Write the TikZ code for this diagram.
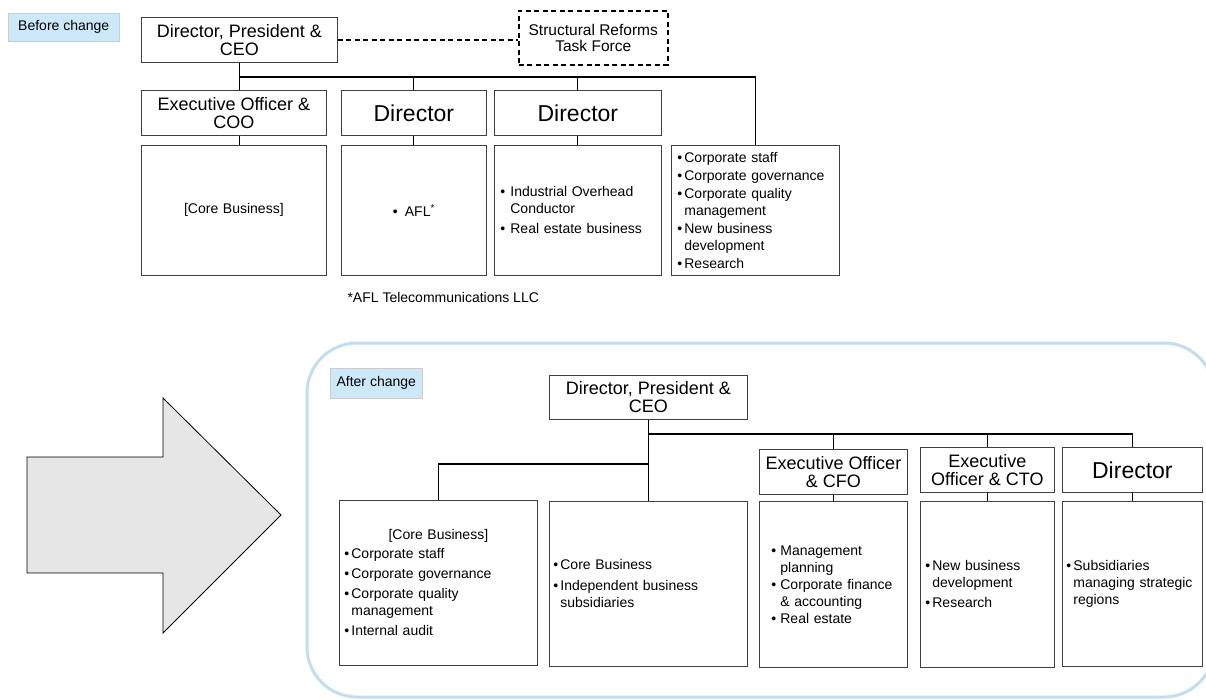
\documentclass[tikz,border=0pt]{standalone}
\usepackage{fontspec}
\setmainfont{Liberation Sans}
\usepackage{tikz}

\definecolor{tagblue}{HTML}{CDE9F9}
\definecolor{frameblue}{HTML}{C2DDF0}
\definecolor{arrowgray}{HTML}{E6E6E6}

\newcommand{\bul}[1][7pt]{\makebox[#1][l]{\textbullet}}
\newcommand{\ind}[1][7pt]{\hspace*{#1}}

\begin{document}
\begin{tikzpicture}[x=1pt,y=-1pt,
	hbox/.style={draw=black!75,line width=0.75pt,anchor=north west,inner sep=0pt,align=center,font=\fontsize{18}{18}\selectfont},
	dbox/.style={hbox,font=\fontsize{23}{23}\selectfont},
	cbox/.style={draw=black!75,line width=0.75pt,anchor=north west,inner xsep=5pt,inner ysep=0pt,align=left,font=\fontsize{14}{17}\selectfont},
	tag/.style={fill=tagblue,draw=black!20,line width=0.5pt,anchor=north west,inner sep=0pt,font=\fontsize{14}{14}\selectfont},
	link/.style={line width=1.2pt}]
	\useasboundingbox (0,0) rectangle (1206,699);
	
	\node (before) [tag,minimum width=111pt,minimum height=28pt] at (8,13) {Before change};
	\node (ceo) [hbox,minimum width=196pt,minimum height=45pt] at (141,17) {Director, President \&\\CEO};
	\node (tf) [hbox,draw=black,line width=1.5pt,dash pattern=on 5pt off 3.5pt,font=\fontsize{15.5}{16}\selectfont,minimum width=149pt,minimum height=54pt] at (518,10) {Structural Reforms\\Task Force};
	\node (coo) [hbox,minimum width=185pt,minimum height=45pt] at (141,90) {Executive Officer \&\\COO};
	\node (dirA) [dbox,minimum width=145pt,minimum height=45pt] at (341,90) {Director};
	\node (dirB) [dbox,minimum width=167pt,minimum height=45pt] at (494,90) {Director};
	
	\node (cbA) [cbox,align=center,text width=175pt,minimum height=130pt] at (141,145) {[Core Business]};
	\node (cbB) [cbox,align=center,text width=135pt,minimum height=130pt] at (341,145) {\bul[12pt]AFL\textsuperscript{*}};
	\node (cbC) [cbox,inner xsep=6pt,text width=155pt,minimum height=130pt] at (494,145) {\bul[10pt]Industrial Overhead\\\ind[10pt]Conductor\\[3pt]\bul[10pt]Real estate business};
	\node (cbD) [cbox,inner xsep=6pt,text width=156pt,minimum height=130pt] at (671,145) {\bul Corporate staff\\[1pt]\bul Corporate governance\\[1pt]\bul Corporate quality\\\ind management\\[1pt]\bul New business\\\ind development\\[1pt]\bul Research};
	\node (note) [anchor=west,font=\fontsize{14}{14}\selectfont] at (344,297) {*AFL Telecommunications LLC};
	
	\coordinate (tbus) at (0,77);
	\draw [line width=1.6pt,dash pattern=on 5pt off 3.5pt] (ceo.east) -- (ceo.east -| tf.west);
	\draw [link] (ceo.south) -- (ceo.south |- coo.north);
	\draw [link] (ceo.south |- tbus) -| (cbD.north);
	\foreach \n in {dirA,dirB}
	\draw [link] (\n.north) -- (\n.north |- tbus);
	\draw [link] (ceo.south |- coo.south) -- (ceo.south |- cbA.north);
	\foreach \a/\b in {dirA/cbB,dirB/cbC}
	\draw [link] (\a.south) -- (\b.north);
	
	\draw [fill=arrowgray,line width=0.8pt] (27,457) -- (163,457) -- (163,398) -- (281,515) -- (163,633) -- (163,573) -- (27,573) -- cycle;
	
	\begin{scope}
		\clip (0,0) rectangle (1206,699);
		\draw [frameblue,line width=3pt,rounded corners=50pt] (307,343) rectangle (1214,697);
	\end{scope}
	
	\node (after) [tag,minimum width=92pt,minimum height=30pt] at (330,368) {After change};
	\node (ceo2) [hbox,minimum width=198pt,minimum height=44pt] at (549,375) {Director, President \&\\CEO};
	\node (cfo) [hbox,minimum width=148pt,minimum height=45pt] at (759,449) {Executive Officer\\\& CFO};
	\node (cto) [hbox,minimum width=134pt,minimum height=45pt] at (920,447) {Executive\\Officer \& CTO};
	\node (dir2) [dbox,minimum width=140pt,minimum height=45pt] at (1062,447) {Director};
	
	\node (ncA) [cbox,text width=188pt,minimum height=165pt] at (339,500) {\makebox[188pt]{[Core Business]}\\[2pt]\bul Corporate staff\\[3pt]\bul Corporate governance\\[3pt]\bul Corporate quality\\\ind management\\[3pt]\bul Internal audit};
	\node (ncB) [cbox,inner xsep=4pt,text width=190pt,minimum height=165pt] at (549,501) {\bul Core Business\\[4pt]\bul Independent business\\\ind subsidiaries};
	\node (ncC) [cbox,inner xsep=12pt,text width=124pt,minimum height=166pt] at (759,501) {\bul[9pt]Management\\\ind[9pt]planning\\\bul[9pt]Corporate finance\\\ind[9pt]\& accounting\\\bul[9pt]Real estate};
	\node (ncD) [cbox,text width=124pt,minimum height=166pt] at (920,501) {\bul New business\\\ind development\\[3pt]\bul Research};
	\node (ncE) [cbox,inner xsep=4pt,text width=132pt,minimum height=165pt] at (1062,501) {\bul Subsidiaries\\\ind managing strategic\\\ind regions};
	
	\coordinate (bbus) at (0,434);
	\coordinate (lbus) at (0,464);
	\draw [link] (ceo2.south) -- (ceo2.south |- ncB.north);
	\draw [link] (ceo2.south |- bbus) -| (dir2.north);
	\foreach \n in {cfo,cto}
	\draw [link] (\n.north) -- (\n.north |- bbus);
	\draw [link] (ceo2.south |- lbus) -| (ncA.north);
	\foreach \a/\b in {cfo/ncC,cto/ncD,dir2/ncE}
	\draw [link] (\a.south) -- (\b.north);
	
\end{tikzpicture}
\end{document}
